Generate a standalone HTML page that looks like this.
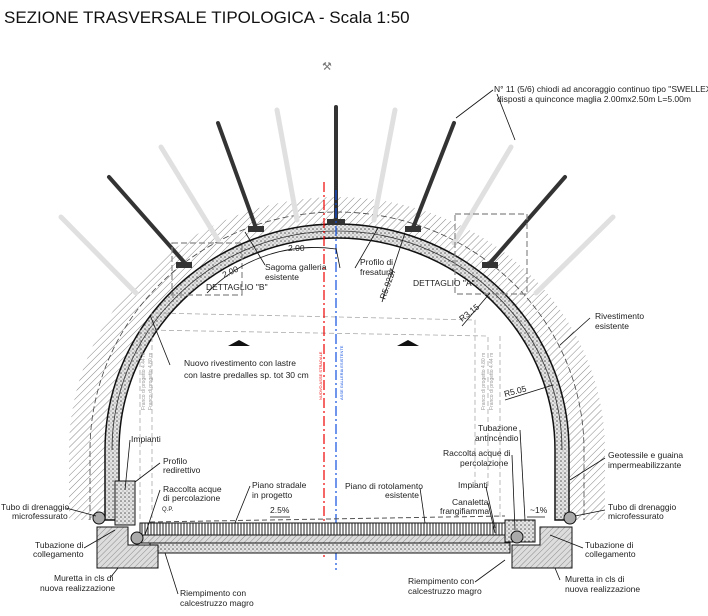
<!DOCTYPE html>
<html><head><meta charset="utf-8"><style>
html,body{margin:0;padding:0;background:#fff;}
svg{display:block;font-family:"Liberation Sans",sans-serif;}
</style></head><body>
<svg width="708" height="616" viewBox="0 0 708 616" xmlns="http://www.w3.org/2000/svg">
<defs>
<pattern id="hat" width="5" height="5" patternUnits="userSpaceOnUse" patternTransform="rotate(45)">
<rect width="5" height="5" fill="#fff"/><line x1="0" y1="0" x2="0" y2="5" stroke="#888" stroke-width="1"/></pattern>
<pattern id="hat2" width="4" height="4" patternUnits="userSpaceOnUse" patternTransform="rotate(45)">
<rect width="4" height="4" fill="#ddd"/><line x1="0" y1="0" x2="0" y2="4" stroke="#777" stroke-width="0.8"/></pattern>
<pattern id="dots" width="4" height="4" patternUnits="userSpaceOnUse">
<rect width="4" height="4" fill="#e4e4e4"/><circle cx="1" cy="1" r="0.8" fill="#555"/><circle cx="3" cy="3" r="0.6" fill="#888"/></pattern>
<pattern id="vert" width="3" height="4" patternUnits="userSpaceOnUse">
<rect width="3" height="4" fill="#fff"/><line x1="1" y1="0" x2="1" y2="4" stroke="#222" stroke-width="1"/></pattern>
</defs>
<text x="4" y="23" font-size="17" fill="#111">SEZIONE TRASVERSALE TIPOLOGICA - Scala 1:50</text>
<text x="322" y="70" font-size="11" fill="#777">⚒</text>

<!-- ground hatch band -->
<path d="M69,520 L69,450 A268,253 0 0 1 605,450 L605,520 L569,520 L569,450 A232,226 0 0 0 105,450 L105,520 Z" fill="url(#hat)"/>
<path d="M90,520 L90,450 A247,238 0 0 1 584,450 L584,520" fill="none" stroke="#444" stroke-dasharray="6,3" stroke-width="0.8"/>
<!-- ghost bolts -->
<g stroke="#e0e0e0" stroke-width="5" stroke-linecap="round">
<line x1="277" y1="110" x2="297" y2="220"/>
<line x1="161" y1="147" x2="218" y2="240"/>
<line x1="61" y1="217" x2="136" y2="293"/>
<line x1="395" y1="110" x2="374" y2="220"/>
<line x1="511" y1="147" x2="454" y2="243"/>
<line x1="613" y1="217" x2="536" y2="293"/>
</g>
<!-- lining -->
<path d="M105,520 L105,450 A232,226 0 0 1 569,450 L569,520 L555,520 L555,450 A218,212 0 0 0 119,450 L119,520 Z" fill="url(#dots)" stroke="#111" stroke-width="1.5"/>
<path d="M112,450 A225,219 0 0 1 562,450" fill="none" stroke="#333" stroke-width="0.8"/>
<!-- dark bolts -->
<g stroke="#333" stroke-width="4" stroke-linecap="round">
<line x1="336" y1="107" x2="336" y2="220"/>
<line x1="218" y1="123" x2="256" y2="228"/>
<line x1="109" y1="177" x2="184" y2="262"/>
<line x1="454" y1="123" x2="413" y2="228"/>
<line x1="565" y1="177" x2="490" y2="263"/>
</g>
<g fill="#333"><rect x="327" y="219" width="18" height="6"/><rect x="248" y="226" width="16" height="6"/><rect x="176" y="262" width="16" height="6"/><rect x="405" y="226" width="16" height="6"/><rect x="482" y="262" width="16" height="6"/></g>
<!-- detail boxes -->
<g fill="none" stroke="#888" stroke-dasharray="6,3" stroke-width="1.2">
<rect x="172" y="243" width="70" height="52"/>
<rect x="455" y="214" width="72" height="80"/>
</g>
<g fill="none" stroke="#aaa" stroke-dasharray="5,3" stroke-width="0.8">
<path d="M155,313 L475,320 L475,488"/>
<path d="M145,330 L488,336 L488,488"/>
<line x1="140" y1="330" x2="140" y2="520"/><line x1="152" y1="313" x2="152" y2="520"/>
<line x1="500" y1="336" x2="500" y2="520"/>
</g>
<!-- axes -->
<line x1="324" y1="182" x2="324" y2="560" stroke="#e00" stroke-dasharray="10,3,2,3" stroke-width="1.2"/>
<line x1="336" y1="190" x2="336" y2="570" stroke="#1050e0" stroke-dasharray="10,3,2,3" stroke-width="1.2"/>
<text transform="translate(322,400) rotate(-90)" font-size="4" fill="#e00">NUOVO ASSE STRADALE</text>
<text transform="translate(343,400) rotate(-90)" font-size="4" fill="#1050e0">ASSE GALLERIA ESISTENTE</text>
<polygon points="228,346 250,346 239,340" fill="#111"/>
<polygon points="397,346 419,346 408,340" fill="#111"/>
<!-- road -->
<rect x="140" y="523" width="370" height="12" fill="url(#vert)" stroke="#111"/>
<rect x="140" y="535" width="370" height="8" fill="url(#hat2)" stroke="#111"/>
<rect x="150" y="543" width="360" height="10" fill="url(#dots)" stroke="#111"/>
<line x1="150" y1="522" x2="505" y2="516" stroke="#555" stroke-dasharray="5,3"/>
<!-- murettas -->
<path d="M97,527 L128,527 L128,545 L158,545 L158,568 L97,568 Z" fill="url(#hat2)" stroke="#111"/>
<path d="M512,545 L540,545 L540,527 L572,527 L572,568 L512,568 Z" fill="url(#hat2)" stroke="#111"/>
<rect x="115" y="481" width="20" height="44" fill="url(#dots)" stroke="#111"/>
<rect x="505" y="520" width="30" height="22" fill="url(#dots)" stroke="#111"/>
<g fill="#aaa" stroke="#111"><circle cx="99" cy="518" r="6"/><circle cx="137" cy="538" r="6"/><circle cx="570" cy="518" r="6"/><circle cx="517" cy="537" r="6"/></g>
<!-- dims & leaders -->
<g stroke="#111" fill="none" stroke-width="0.8">
<path d="M207,293 A150,150 0 0 1 336,249"/>
<line x1="382" y1="302" x2="405" y2="233"/><line x1="462" y1="326" x2="490" y2="293"/><line x1="505" y1="400" x2="553" y2="385"/>
<line x1="493" y1="90" x2="456" y2="118"/><line x1="497" y1="94" x2="515" y2="140"/>
<line x1="170" y1="365" x2="150" y2="315"/>
<line x1="590" y1="318" x2="560" y2="345"/>
<line x1="605" y1="458" x2="570" y2="480"/>
<line x1="605" y1="510" x2="575" y2="516"/>
<line x1="66" y1="508" x2="96" y2="516"/>
<line x1="84" y1="548" x2="115" y2="530"/>
<line x1="583" y1="548" x2="550" y2="535"/>
<line x1="110" y1="578" x2="118" y2="568"/>
<line x1="560" y1="580" x2="555" y2="568"/>
<line x1="178" y1="594" x2="165" y2="553"/>
<line x1="475" y1="582" x2="505" y2="560"/>
<line x1="130" y1="440" x2="125" y2="490"/>
<line x1="160" y1="463" x2="135" y2="482"/>
<line x1="160" y1="490" x2="145" y2="535"/>
<line x1="250" y1="486" x2="235" y2="523"/>
<line x1="420" y1="488" x2="425" y2="523"/>
<line x1="520" y1="430" x2="525" y2="520"/>
<line x1="512" y1="455" x2="515" y2="530"/>
<line x1="486" y1="487" x2="495" y2="528"/>
<line x1="488" y1="503" x2="495" y2="533"/>
<line x1="340" y1="268" x2="336" y2="248"/>
<line x1="265" y1="265" x2="245" y2="232"/>
<line x1="355" y1="268" x2="378" y2="228"/>
<line x1="270" y1="517" x2="290" y2="517"/><line x1="527" y1="517" x2="545" y2="517"/>
</g>
<g font-size="8.5" fill="#222">
<text x="288" y="251">2.00</text><text transform="translate(224,278) rotate(-25)">2.00</text>
<text x="265" y="270">Sagoma galleria</text><text x="265" y="280">esistente</text>
<text x="360" y="265">Profilo di</text><text x="360" y="275">fresatura</text>
<text transform="translate(385,300) rotate(-70)">R5.9227</text>
<text x="206" y="290">DETTAGLIO "B"</text><text x="413" y="286">DETTAGLIO "A"</text>
<text transform="translate(462,322) rotate(-38)">R3.15</text>
<text transform="translate(505,397) rotate(-15)">R5.05</text>
<text x="494" y="92">N° 11 (5/6) chiodi ad ancoraggio continuo tipo "SWELLEX"</text>
<text x="497" y="102">disposti a quinconce maglia 2.00mx2.50m L=5.00m</text>
<text x="595" y="319">Rivestimento</text><text x="595" y="329">esistente</text>
<text x="184" y="366">Nuovo rivestimento con lastre</text><text x="184" y="378">con lastre predalles sp. tot 30 cm</text>
<text x="131" y="442">Impianti</text>
<text x="163" y="464">Profilo</text><text x="163" y="473">redirettivo</text>
<text x="163" y="492">Raccolta acque</text><text x="163" y="501">di percolazione</text>
<text x="252" y="488">Piano stradale</text><text x="252" y="498">in progetto</text>
<text x="345" y="489">Piano di rotolamento</text><text x="385" y="498">esistente</text>
<text x="270" y="513">2.5%</text><text x="162" y="511" font-size="6">Q.P.</text>
<text x="478" y="431">Tubazione</text><text x="475" y="441">antincendio</text>
<text x="443" y="456">Raccolta acque di</text><text x="460" y="466">percolazione</text>
<text x="458" y="488">Impianti</text>
<text x="452" y="505">Canaletta</text><text x="440" y="514">frangifiamma</text>
<text x="530" y="513">~1%</text>
<text x="608" y="458">Geotessile e guaina</text><text x="608" y="468">impermeabilizzante</text>
<text x="608" y="510">Tubo di drenaggio</text><text x="608" y="519">microfessurato</text>
<text x="1" y="510">Tubo di drenaggio</text><text x="12" y="519">microfessurato</text>
<text x="35" y="548">Tubazione di</text><text x="33" y="557">collegamento</text>
<text x="585" y="548">Tubazione di</text><text x="585" y="557">collegamento</text>
<text x="54" y="581">Muretta in cls di</text><text x="40" y="591">nuova realizzazione</text>
<text x="565" y="582">Muretta in cls di</text><text x="565" y="592">nuova realizzazione</text>
<text x="180" y="596">Riempimento con</text><text x="180" y="606">calcestruzzo magro</text>
<text x="408" y="584">Riempimento con</text><text x="408" y="594">calcestruzzo magro</text>
</g>
<g font-size="5" fill="#999">
<text transform="translate(145,410) rotate(-90)">Franco di progetto 4.44 m</text>
<text transform="translate(152,410) rotate(-90)">Franco di progetto 4.80 m</text>
<text transform="translate(485,410) rotate(-90)">Franco di progetto 4.80 m</text>
<text transform="translate(493,410) rotate(-90)">Franco di progetto 4.44 m</text>
</g>
</svg>
</body></html>
